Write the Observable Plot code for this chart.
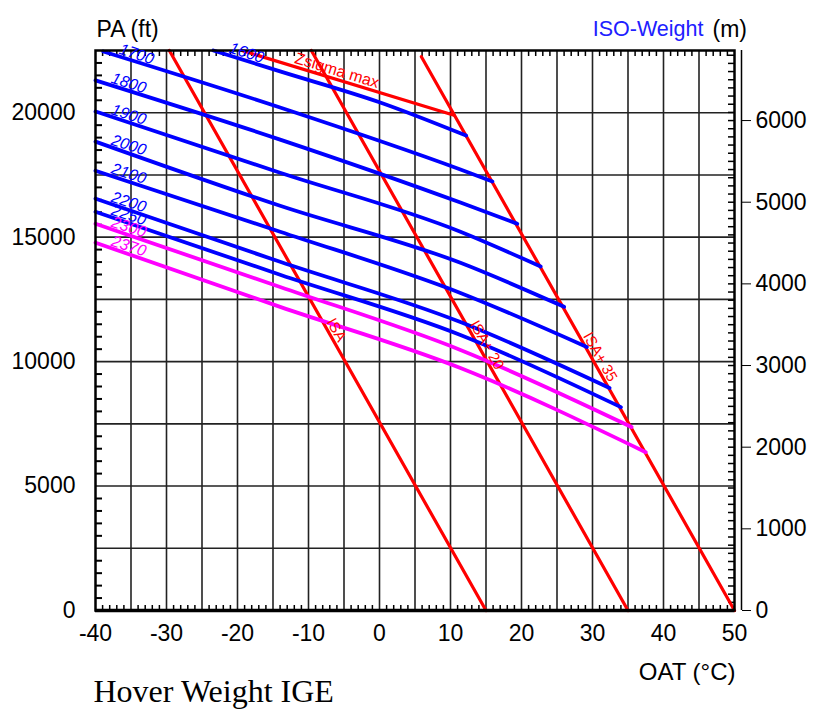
<!DOCTYPE html>
<html>
<head>
<meta charset="utf-8">
<script src="https://cdn.jsdelivr.net/npm/d3@7"></script>
<script src="https://cdn.jsdelivr.net/npm/@observablehq/plot@0.6"></script>
<style>
  html, body { margin: 0; padding: 0; background: #fff; }
  #chart svg { display: block; }
</style>
</head>
<body>
<div id="chart"></div>
<script>
// ---------- data ----------
const weights = [1600, 1700, 1800, 1900, 2000, 2100, 2200, 2250, 2300, 2370];
const magentaWeights = [2300, 2370];
// [OAT °C, PA ft] points along each iso-weight curve
const curve1600 = [[-23.4, 22500], [-14.0, 21660], [0.1, 20410], [12.2, 19080]];
const curve1700 = [[-38.9, 22460], [-14.0, 20210], [11.4, 17720], [15.9, 17240]];
const curve1800 = [[-40, 21300], [-14.0, 18920], [11.4, 16390], [19.4, 15540]];
const curve1900 = [[-40, 20050], [-14.0, 17590], [11.4, 15220], [22.7, 13820]];
const curve2000 = [[-40, 18840], [-14.0, 16260], [11.4, 13970], [26.0, 12200]];
const curve2100 = [[-40, 17670], [-14.0, 15220], [11.4, 12760], [29.2, 10590]];
const curve2200 = [[-40, 16550], [-14.0, 14010], [11.4, 11590], [32.4, 8940]];
const curve2250 = [[-40, 16020], [-14.0, 13490], [11.4, 11070], [34.0, 8170]];
const curve2300 = [[-40, 15540], [-14.0, 13000], [11.4, 10470], [35.5, 7370]];
const curve2370 = [[-40, 14780], [-14.0, 12200], [11.4, 9740], [37.5, 6360]];
const curves = [curve1600, curve1700, curve1800, curve1900, curve2000, curve2100, curve2200, curve2250, curve2300, curve2370];

const isaNames = ["ISA", "ISA+ 20", "ISA+ 35"];
const isaLines = [[[15, 0], [-29.6, 22500]], [[35, 0], [-9.6, 22500]], [[50, 0], [5.9, 22250]]];
const isaLabelPA = [11270, 10670, 10190];
const zsigmaLine = [[-19.4, 22500], [10.5, 19900]];
const zsigmaLabelT = -6;

const xTicks = [-40, -30, -20, -10, 0, 10, 20, 30, 40, 50];
const yTicksFt = [0, 5000, 10000, 15000, 20000];
const yTicksM = [0, 1000, 2000, 3000, 4000, 5000, 6000];
const xGrid = d3.range(-35, 50, 5);
const yGrid = d3.range(2500, 22500, 2500);
const FT_PER_M = 3.28084;

// ---------- layout ----------
const W = 826, H = 718;
const mL = 95, mR = 92, mT = 50, mB = 108;
const plotW = W - mL - mR, plotH = H - mT - mB;

const BLUE = "#0000ff", MAGENTA = "#ff00ff", RED = "#ff0000";

function interp(pts, key, val) {
  const o = 1 - key;
  for (let i = 0; i < pts.length - 1; i++) {
    const a = pts[i], b = pts[i + 1];
    const lo = Math.min(a[key], b[key]), hi = Math.max(a[key], b[key]);
    if (val >= lo && val <= hi) {
      const f = (val - a[key]) / (b[key] - a[key]);
      return a[o] + f * (b[o] - a[o]);
    }
  }
  return pts[pts.length - 1][o];
}

const rows = curves.flatMap((pts, i) => pts.map(([t, pa]) => ({w: weights[i], t, pa})));
const blueRows = rows.filter(d => !magentaWeights.includes(d.w));
const magRows = rows.filter(d => magentaWeights.includes(d.w));

const curveLabels = curves.map((pts, i) => {
  const t = pts[0][0] + 4.7;
  return {w: weights[i], t, pa: interp(pts, 0, t)};
});

const isaRows = isaLines.flatMap((pts, i) => pts.map(([t, pa]) => ({k: i, t, pa})));
const isaLabels = isaLines.map((pts, i) => ({text: isaNames[i], pa: isaLabelPA[i], t: interp(pts, 1, isaLabelPA[i])}));
const zsRows = zsigmaLine.map(([t, pa]) => ({t, pa}));
const zsLabel = [{text: "Zsigma max", t: zsigmaLabelT, pa: interp(zsigmaLine, 0, zsigmaLabelT)}];

const minorT = d3.range(-39, 50, 1).filter(d => d % 5 !== 0);
const minorFt = d3.range(500, 22500, 500).filter(d => d % 2500 !== 0);
const minorM = d3.range(100, 6900, 100).map(m => m * FT_PER_M).filter(f => f < 22500);

const chart = Plot.plot({
  width: W, height: H,
  marginLeft: mL, marginRight: mR, marginTop: mT, marginBottom: mB,
  x: {domain: [-40, 50]},
  y: {domain: [0, 22500]},
  style: {fontFamily: "'Liberation Sans', Arial, sans-serif", background: "#fff", color: "#000", overflow: "visible"},
  marks: [
    // grid
    Plot.ruleX(xGrid, {stroke: "#222", strokeWidth: 1.6}),
    Plot.ruleY(yGrid, {stroke: "#222", strokeWidth: 1.6}),
    // minor ticks
    Plot.tickX(minorT, {x: d => d, stroke: "#000", strokeWidth: 1.5, insetBottom: plotH - 6}),
    Plot.tickX(minorT, {x: d => d, stroke: "#000", strokeWidth: 1.5, insetTop: plotH - 5}),
    Plot.tickY(minorFt, {y: d => d, stroke: "#000", strokeWidth: 2, insetRight: plotW - 7}),
    Plot.tickY(minorM, {y: d => d, stroke: "#000", strokeWidth: 1.5, insetLeft: plotW - 6}),
    // ISA lines
    Plot.line(isaRows, {x: "t", y: "pa", z: "k", stroke: RED, strokeWidth: 3.2}),
    Plot.line(zsRows, {x: "t", y: "pa", stroke: RED, strokeWidth: 3.2}),
    // iso-weight curves
    Plot.line(blueRows, {x: "t", y: "pa", z: "w", stroke: BLUE, strokeWidth: 3.8, curve: "monotone-x"}),
    Plot.line(magRows, {x: "t", y: "pa", z: "w", stroke: MAGENTA, strokeWidth: 3.8, curve: "monotone-x"}),
    // frame
    Plot.frame({stroke: "#000", strokeWidth: 2.5}),
    Plot.ruleY([0], {stroke: "#000", strokeWidth: 3.5}),
    Plot.ruleX([50], {dx: 7, stroke: "#000", strokeWidth: 1.5}),
    // axes
    Plot.axisX({anchor: "bottom", ticks: xTicks, tickSize: 0, tickPadding: 14, fontSize: 23, label: null, tickFormat: d => String(d)}),
    Plot.axisY({anchor: "left", ticks: yTicksFt, tickSize: 0, tickPadding: 20, fontSize: 23, label: null, tickFormat: d => String(d)}),
    Plot.axisY({anchor: "right", ticks: yTicksM.map(m => m * FT_PER_M), dx: 7, tickSize: 9, tickPadding: 5, fontSize: 23, label: null, tickFormat: d => String(Math.round(d / FT_PER_M))}),
    // curve labels
    Plot.text(curveLabels, {x: "t", y: "pa", text: d => String(d.w), rotate: 18, dy: -8, fontSize: 16, fontStyle: "italic",
      fill: d => magentaWeights.includes(d.w) ? MAGENTA : BLUE}),
    Plot.text(isaLabels, {x: "t", y: "pa", text: "text", rotate: 60.5, dx: 9, fontSize: 15, fill: RED}),
    Plot.text(zsLabel, {x: "t", y: "pa", text: "text", rotate: 17, dy: -9, fontSize: 16, fill: RED}),
    // titles
    Plot.text(["PA (ft)"], {frameAnchor: "top-left", dx: 1, dy: -30, textAnchor: "start", fontSize: 23, fill: "#000"}),
    Plot.text(["ISO-Weight"], {frameAnchor: "top-right", dx: -31, dy: -30, textAnchor: "end", fontSize: 21.5, fill: "#2020ff"}),
    Plot.text(["(m)"], {frameAnchor: "top-right", dx: -22, dy: -30, textAnchor: "start", fontSize: 23, fill: "#000"}),
    Plot.text(["OAT (°C)"], {frameAnchor: "bottom-right", dx: 1, dy: 69, textAnchor: "end", fontSize: 24, fill: "#000"}),
    Plot.text(["Hover Weight IGE"], {frameAnchor: "bottom-left", dx: -2, dy: 91, textAnchor: "start", fontSize: 32,
      fontFamily: "'Liberation Serif', 'Times New Roman', serif", fill: "#000"})
  ]
});
document.getElementById("chart").appendChild(chart);
</script>
</body>
</html>
